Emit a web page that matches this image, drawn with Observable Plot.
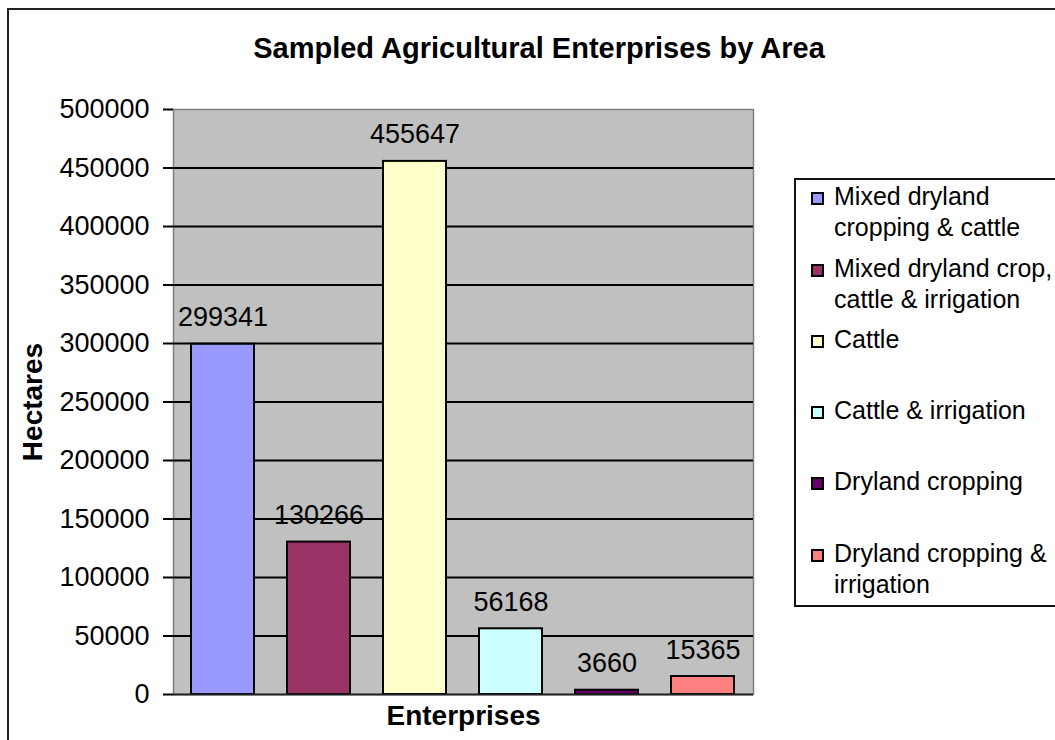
<!DOCTYPE html>
<html>
<head>
<meta charset="utf-8">
<script src="https://cdn.jsdelivr.net/npm/d3@7"></script>
<script src="https://cdn.jsdelivr.net/npm/@observablehq/plot@0.6"></script>
<style>
  html, body { margin: 0; padding: 0; background: #fff; overflow: hidden; }
  #wrap { position: relative; width: 1055px; height: 740px; overflow: hidden;
          font-family: 'Liberation Sans', Arial, sans-serif; color: #000; }
  #border { position: absolute; left: 7px; top: 8px; width: 1200px; height: 900px;
            border-left: 2px solid #222; border-top: 2px solid #222; box-sizing: border-box; }
  #chart { position: absolute; left: 0; top: 0; }
  #title { position: absolute; left: 139px; top: 34px; width: 800px; text-align: center;
           font-weight: bold; font-size: 29px; line-height: 29px; white-space: nowrap; }
  #legend { position: absolute; left: 794px; top: 178px; width: 320px; height: 429px;
            border: 2px solid #111; box-sizing: border-box; }
  .item { position: absolute; left: 0; }
  .sw { position: absolute; left: 15px; top: 11px; width: 13px; height: 13px;
        border: 2px solid #000; box-sizing: border-box; }
  .lab { position: absolute; left: 38px; top: 0; width: 225px; font-size: 25px; line-height: 31px; }
</style>
</head>
<body>
<div id="wrap">
  <div id="border"></div>
  <div id="chart"></div>
  <div id="title">Sampled Agricultural Enterprises by Area</div>
  <div id="legend"></div>
</div>
<script>
const categories = [
  "Mixed dryland cropping & cattle",
  "Mixed dryland crop, cattle & irrigation",
  "Cattle",
  "Cattle & irrigation",
  "Dryland cropping",
  "Dryland cropping & irrigation"
];
const hectares = [299341, 130266, 455647, 56168, 3660, 15365];
const colors = ["#9999FF", "#993366", "#FFFFCC", "#CCFFFF", "#660066", "#FF8080"];
const yTicks = [0, 50000, 100000, 150000, 200000, 250000, 300000, 350000, 400000, 450000, 500000];
const yTitle = "Hectares";
const xTitle = "Enterprises";

const data = categories.map((c, i) => ({cat: c, value: hectares[i], color: colors[i]}));

const chart = Plot.plot({
  width: 1055,
  height: 740,
  marginLeft: 173,
  marginRight: 302,
  marginTop: 109,
  marginBottom: 46,
  style: {fontFamily: "'Liberation Sans', Arial, sans-serif", fontSize: "27px", background: "transparent", overflow: "visible", color: "#000"},
  x: {type: "band", domain: categories, paddingInner: 0.34, paddingOuter: 0.17, axis: null},
  y: {domain: [0, 500000]},
  color: {type: "identity"},
  marks: [
    Plot.frame({fill: "#c0c0c0", stroke: "#808080", strokeWidth: 1.5}),
    Plot.ruleY(yTicks.filter(t => t > 0 && t < 500000), {stroke: "#000", strokeWidth: 2}),
    Plot.barY(data, {x: "cat", y: "value", fill: "color", stroke: "#000", strokeWidth: 2}),
    Plot.ruleY([0], {stroke: "#222", strokeWidth: 2}),
    Plot.axisY({ticks: yTicks, tickFormat: d3.format("d"), tickSize: 10, tickPadding: 14,
                fontSize: 27, line: true, stroke: "#000", strokeWidth: 2, label: null}),
    Plot.text(data, {x: "cat", y: "value", text: d => String(d.value), dy: -18,
                     lineAnchor: "bottom", fontSize: 27, fill: "#000"}),
    Plot.text([yTitle], {frameAnchor: "left", text: d => d, rotate: -90, dx: -140,
                         textAnchor: "middle", lineAnchor: "middle", fontSize: 28, fontWeight: "bold", fill: "#000"}),
    Plot.text([xTitle], {frameAnchor: "bottom", text: d => d, dy: 22,
                         textAnchor: "middle", lineAnchor: "middle", fontSize: 28, fontWeight: "bold", fill: "#000"})
  ]
});
document.getElementById("chart").appendChild(chart);

// Legend
const legend = document.getElementById("legend");
categories.forEach((c, i) => {
  const item = document.createElement("div");
  item.className = "item";
  item.style.top = (181.2 - 178 - 2 + i * 71.3) + "px";
  const sw = document.createElement("div");
  sw.className = "sw";
  sw.style.background = colors[i];
  const lab = document.createElement("div");
  lab.className = "lab";
  lab.textContent = c;
  item.appendChild(sw);
  item.appendChild(lab);
  legend.appendChild(item);
});
</script>
</body>
</html>
